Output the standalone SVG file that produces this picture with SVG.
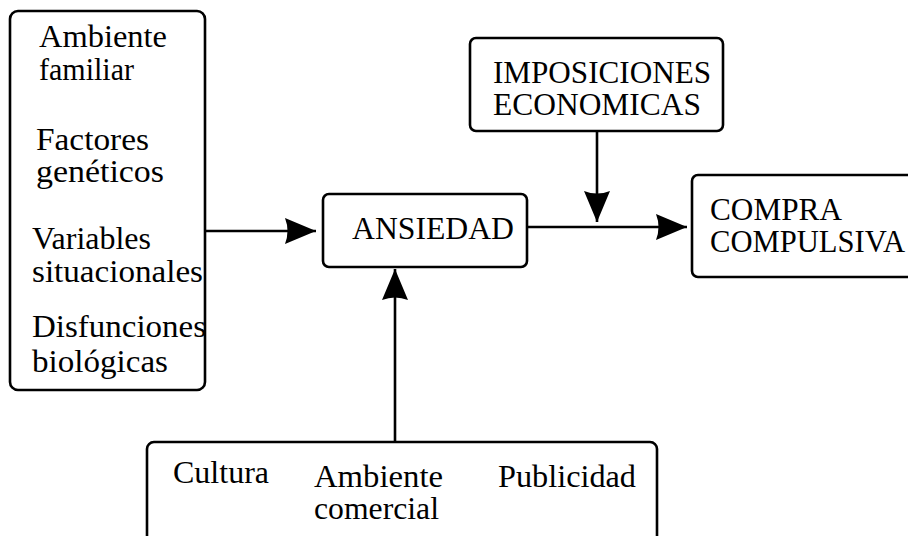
<svg xmlns="http://www.w3.org/2000/svg" width="908" height="536" viewBox="0 0 908 536">
<style>
.box{fill:#fff;stroke:#000;stroke-width:2.6}
.t{font-family:"Liberation Serif","Times New Roman",serif;font-size:31px;fill:#000}
.ln{fill:none;stroke:#000;stroke-width:2.6}
</style>
<defs>
<marker id="arr" viewBox="0 0 31 26" markerWidth="31" markerHeight="26" markerUnits="userSpaceOnUse" refX="31" refY="13" orient="auto">
<path d="M0,0 L31,13 L0,26 Q5,13 0,0 Z" fill="#000"/>
</marker>
</defs>
<rect width="908" height="536" fill="#fff"/>
<g id="factores">
<rect class="box" x="10" y="11" width="195" height="379" rx="8"/>
<text class="t" x="39" y="47" textLength="128" lengthAdjust="spacingAndGlyphs">Ambiente</text>
<text class="t" x="39" y="80" textLength="95" lengthAdjust="spacingAndGlyphs">familiar</text>
<text class="t" x="36" y="150" textLength="113" lengthAdjust="spacingAndGlyphs">Factores</text>
<text class="t" x="36" y="182" textLength="128" lengthAdjust="spacingAndGlyphs">genéticos</text>
<text class="t" x="32" y="249" textLength="119" lengthAdjust="spacingAndGlyphs">Variables</text>
<text class="t" x="32" y="282" textLength="171" lengthAdjust="spacingAndGlyphs">situacionales</text>
<text class="t" x="32" y="337" textLength="174" lengthAdjust="spacingAndGlyphs">Disfunciones</text>
<text class="t" x="32" y="372" textLength="136" lengthAdjust="spacingAndGlyphs">biológicas</text>
</g>
<g id="imposiciones">
<rect class="box" x="470" y="38" width="253" height="93" rx="6"/>
<text class="t" x="493" y="83" textLength="218" lengthAdjust="spacingAndGlyphs">IMPOSICIONES</text>
<text class="t" x="493" y="115" textLength="208" lengthAdjust="spacingAndGlyphs">ECONOMICAS</text>
</g>
<g id="ansiedad">
<rect class="box" x="323" y="194" width="204" height="73" rx="6"/>
<text class="t" x="352" y="239" textLength="162" lengthAdjust="spacingAndGlyphs">ANSIEDAD</text>
</g>
<g id="compra">
<rect class="box" x="692" y="175" width="240" height="102" rx="6"/>
<text class="t" x="710" y="220" textLength="132" lengthAdjust="spacingAndGlyphs">COMPRA</text>
<text class="t" x="710" y="252" textLength="195" lengthAdjust="spacingAndGlyphs">COMPULSIVA</text>
</g>
<g id="contexto">
<rect class="box" x="147" y="442" width="510" height="130" rx="7"/>
<text class="t" x="173" y="483" textLength="96" lengthAdjust="spacingAndGlyphs">Cultura</text>
<text class="t" x="314" y="487" textLength="129" lengthAdjust="spacingAndGlyphs">Ambiente</text>
<text class="t" x="314" y="519" textLength="125" lengthAdjust="spacingAndGlyphs">comercial</text>
<text class="t" x="498" y="487" textLength="138" lengthAdjust="spacingAndGlyphs">Publicidad</text>
</g>
<g id="connectors">
<path class="ln" d="M206,231 H316" marker-end="url(#arr)"/>
<path class="ln" d="M527,227 H687" marker-end="url(#arr)"/>
<path class="ln" d="M597,132 V222" marker-end="url(#arr)"/>
<path class="ln" d="M395,441 V269" marker-end="url(#arr)"/>
</g>
</svg>
